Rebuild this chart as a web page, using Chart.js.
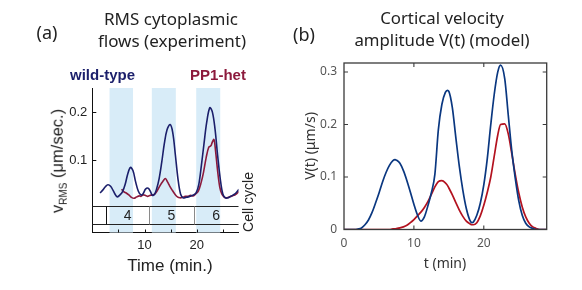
<!DOCTYPE html>
<html>
<head>
<meta charset="utf-8">
<script src="https://cdn.jsdelivr.net/npm/chart.js@4"></script>
<style>
  html, body { margin:0; padding:0; background:#fff; }
  #wrap { position:relative; width:582px; height:290px; overflow:hidden; background:#fff; }
  canvas { position:absolute; top:0; }
  .t { position:absolute; transform:translate(-50%,-50%); white-space:nowrap; line-height:1; color:#222; }
  .r { transform:translate(-50%,-50%) rotate(-90deg); }
  .noto { font-family:"Noto Sans", sans-serif; }
  .lib { font-family:"Liberation Sans", Arial, sans-serif; }
</style>
</head>
<body>
<div id="wrap">
  <canvas id="ca" width="290" height="290" style="left:0"></canvas>
  <canvas id="cb" width="292" height="290" style="left:290px"></canvas>

  <div class="t noto" style="left:47px;top:32px;font-size:18px">(a)</div>
  <div class="t noto" style="left:171px;top:18px;font-size:17px">RMS cytoplasmic</div>
  <div class="t noto" style="left:172px;top:40px;font-size:17px">flows (experiment)</div>
  <div class="t lib" style="left:102.5px;top:73.5px;font-size:15px;font-weight:bold;color:#1b1f6b">wild-type</div>
  <div class="t lib" style="left:218px;top:73.5px;font-size:15px;font-weight:bold;color:#8c1a3c">PP1-het</div>
  <div class="t lib r" style="left:57px;top:161px;font-size:16.5px">v<span style="font-size:10px;position:relative;top:4px">RMS</span> (μm/sec.)</div>
  <div class="t lib" style="left:170px;top:265px;font-size:17px">Time (min.)</div>
  <div class="t lib r" style="left:248px;top:202px;font-size:14px">Cell cycle</div>

  <div class="t noto" style="left:304px;top:34px;font-size:18px">(b)</div>
  <div class="t noto" style="left:442px;top:18px;font-size:16.8px">Cortical velocity</div>
  <div class="t noto" style="left:442px;top:40px;font-size:16.8px">amplitude V(t) (model)</div>
  <div class="t noto r" style="left:310px;top:146px;font-size:14px;color:#333">V(t) (μm/s)</div>
  <div class="t noto" style="left:445px;top:263px;font-size:14px;color:#333">t (min)</div>
</div>
<script>
// ---------- Panel (a): experiment ----------
const aTimeWT = [1.5,2.0,2.5,3.0,3.5,4.0,4.5,4.8,5.3,5.8,6.3,6.8,7.3,7.8,8.3,8.8,9.3,9.7,10.2,10.7,11.1,11.5,11.9,12.3,12.8,13.3,13.8,14.3,14.9,15.4,15.9,16.4,16.9,17.4,17.9,18.4,18.9,19.4,19.9,20.4,20.9,21.4,21.9,22.5,23.0,23.5,24.0,24.5,25.0,25.5,26.0,26.5,27.0,27.5,28.1];
const aWT     = [0.032,0.038,0.045,0.049,0.046,0.037,0.027,0.024,0.028,0.035,0.050,0.072,0.085,0.078,0.055,0.036,0.028,0.030,0.040,0.042,0.036,0.027,0.029,0.040,0.062,0.096,0.135,0.163,0.174,0.158,0.112,0.062,0.030,0.022,0.023,0.024,0.026,0.028,0.033,0.050,0.090,0.135,0.178,0.209,0.200,0.165,0.110,0.062,0.030,0.022,0.022,0.025,0.028,0.032,0.040];
const aTimePP = [5.6,6.0,6.5,7.0,7.5,8.0,8.5,9.0,9.3,9.7,10.2,10.6,11.0,11.5,12.0,12.5,13.0,13.5,14.0,14.4,14.8,15.3,15.8,16.3,16.8,17.3,17.8,18.3,18.8,19.3,19.8,20.3,20.8,21.3,21.8,22.3,22.7,23.0,23.3,23.6,24.0,24.4,24.8,25.3,25.8,26.3,26.8,27.3,27.8,28.2];
const aPP     = [0.040,0.035,0.032,0.028,0.023,0.021,0.024,0.026,0.025,0.028,0.027,0.025,0.027,0.028,0.030,0.038,0.048,0.056,0.062,0.055,0.047,0.038,0.030,0.024,0.022,0.023,0.025,0.025,0.027,0.026,0.030,0.036,0.052,0.075,0.105,0.127,0.130,0.138,0.143,0.120,0.078,0.045,0.030,0.023,0.022,0.024,0.026,0.028,0.032,0.036];
const aBandStart = [3.3, 11.4, 19.9];
const aBandEnd   = [7.8, 16.0, 24.5];
const aCycleBounds = [2.6, 10.9, 19.4, 28];
const aCycleLabels = ['4','5','6'];
const aTicksX = [5,10,15,20,25];
const aLabelsX = [10,20];
const aTicksY = [0.1,0.2];

// ---------- Panel (b): model ----------
const bTime = [0,0.5,1,1.5,2,2.5,3,3.5,4,4.5,5,5.5,6,6.5,7,7.3,7.5,8,8.5,9,9.5,10,10.5,11,11.5,12,12.5,13,13.5,14,14.5,14.8,15,15.5,16,16.5,17,17.5,18,18.3,18.5,19,19.5,20,20.5,21,21.5,22,22.4,23,23.5,24,24.5,25,25.5,26,26.5,27,27.5,28,29];
const bWT   = [0,0,0,0,0.001,0.003,0.009,0.018,0.032,0.050,0.069,0.090,0.108,0.122,0.131,0.133,0.132,0.126,0.112,0.093,0.071,0.048,0.028,0.016,0.024,0.045,0.070,0.105,0.190,0.238,0.261,0.265,0.263,0.232,0.175,0.120,0.075,0.040,0.018,0.013,0.014,0.027,0.050,0.085,0.135,0.200,0.258,0.300,0.313,0.287,0.218,0.150,0.098,0.055,0.027,0.012,0.005,0.002,0,0,0];
const bPP   = [0,0,0,0,0,0,0,0,0,0,0,0,0,0,0.001,0.001,0.002,0.003,0.005,0.008,0.013,0.019,0.026,0.033,0.042,0.053,0.067,0.081,0.091,0.093,0.089,0.084,0.079,0.066,0.051,0.037,0.025,0.016,0.011,0.009,0.009,0.013,0.026,0.046,0.071,0.100,0.140,0.180,0.200,0.201,0.182,0.145,0.105,0.070,0.043,0.024,0.012,0.005,0.002,0,0];
const bTicksX = [0,10,20];
const bTicksY = [0,0.1,0.2,0.3];

const pts = (xs, ys) => xs.map((x, i) => ({x, y: ys[i]}));

// ---- plugins ----
const panelA = {
  id: 'panelA',
  beforeDatasetsDraw(chart) {
    const {ctx, chartArea: ca, scales: {x}} = chart;
    ctx.save();
    ctx.fillStyle = '#d8ecf8';
    aBandStart.forEach((s, i) => {
      const x0 = x.getPixelForValue(s), x1 = x.getPixelForValue(aBandEnd[i]);
      ctx.fillRect(x0, ca.top, x1 - x0, ca.bottom - ca.top);
    });
    const top = Math.round(ca.bottom - 27) + 0.5, mid = Math.round(ca.bottom - 9) + 0.5;
    ctx.lineWidth = 1;
    ctx.strokeStyle = '#222';
    ctx.beginPath();
    ctx.moveTo(ca.left, top); ctx.lineTo(ca.right, top);
    ctx.moveTo(ca.left, mid); ctx.lineTo(ca.right, mid);
    ctx.stroke();
    for (let i = 0; i < aCycleBounds.length - 1; i++) {
      const px = Math.round(x.getPixelForValue(aCycleBounds[i])) + 0.5;
      ctx.strokeStyle = i === 0 ? '#111' : '#8a8a8a';
      ctx.beginPath(); ctx.moveTo(px, top); ctx.lineTo(px, mid); ctx.stroke();
    }
    ctx.fillStyle = '#222';
    ctx.font = '14px "Liberation Sans", Arial, sans-serif';
    ctx.textAlign = 'center'; ctx.textBaseline = 'middle';
    aCycleLabels.forEach((lab, i) => {
      const cx = x.getPixelForValue((aCycleBounds[i] + aCycleBounds[i + 1]) / 2);
      ctx.fillText(lab, cx, (top + mid) / 2 + 1);
    });
    ctx.restore();
  },
  afterDraw(chart) {
    const {ctx, chartArea: ca, scales: {x, y}} = chart;
    ctx.save();
    ctx.strokeStyle = '#111'; ctx.lineWidth = 1;
    ctx.beginPath();
    aTicksX.forEach(v => { const px = Math.round(x.getPixelForValue(v)) + 0.5; ctx.moveTo(px, ca.bottom); ctx.lineTo(px, ca.bottom - 3); });
    aTicksY.forEach(v => { const py = Math.round(y.getPixelForValue(v)) + 0.5; ctx.moveTo(ca.left, py); ctx.lineTo(ca.left + 4, py); });
    ctx.stroke();
    ctx.restore();
  }
};

const panelB = {
  id: 'panelB',
  afterDraw(chart) {
    const {ctx, chartArea: ca, scales: {x, y}} = chart;
    ctx.save();
    ctx.strokeStyle = '#3a3a3a'; ctx.lineWidth = 1.3;
    ctx.strokeRect(ca.left, ca.top, ca.right - ca.left, ca.bottom - ca.top);
    ctx.lineWidth = 1.1;
    ctx.beginPath();
    bTicksX.forEach(v => { const px = x.getPixelForValue(v); if (px <= ca.left + 1) return; ctx.moveTo(px, ca.bottom); ctx.lineTo(px, ca.bottom - 4); ctx.moveTo(px, ca.top); ctx.lineTo(px, ca.top + 4); });
    bTicksY.forEach(v => { const py = y.getPixelForValue(v); if (py >= ca.bottom - 1) return; ctx.moveTo(ca.left, py); ctx.lineTo(ca.left + 4, py); ctx.moveTo(ca.right, py); ctx.lineTo(ca.right - 4, py); });
    ctx.stroke();
    ctx.restore();
  }
};

const libFont = {family: '"Liberation Sans", Arial, sans-serif', size: 13};
const notoFont = {family: '"Noto Sans", sans-serif', size: 12};

new Chart(document.getElementById('ca'), {
  type: 'line',
  data: { datasets: [
    { label: 'wild-type', data: pts(aTimeWT, aWT), borderColor: '#1b1f6b', borderWidth: 1.6, pointRadius: 0, tension: 0.35, fill: false },
    { label: 'PP1-het', data: pts(aTimePP, aPP), borderColor: '#8c1a3c', borderWidth: 1.6, pointRadius: 0, tension: 0.35, fill: false }
  ]},
  options: {
    responsive: false, animation: false, devicePixelRatio: 1,
    layout: { padding: { left: 0, top: 88, right: 51.5, bottom: 0 } },
    plugins: { legend: { display: false }, tooltip: { enabled: false }, title: { display: false } },
    scales: {
      x: { type: 'linear', min: 0, max: 28,
        afterFit(s) { s.height = 57.5; },
        afterBuildTicks(s) { s.ticks = aTicksX.map(v => ({value: v})); },
        ticks: { callback: v => aLabelsX.includes(v) ? String(v) : '', font: libFont, color: '#222', padding: 5, maxRotation: 0, autoSkip: false },
        grid: { display: false, drawTicks: false },
        border: { display: true, color: '#111', width: 1 } },
      y: { type: 'linear', min: -0.05, max: 0.25,
        afterFit(s) { s.width = 92.3; },
        afterBuildTicks(s) { s.ticks = aTicksY.map(v => ({value: v})); },
        ticks: { callback: v => v.toFixed(1), font: libFont, color: '#222', padding: 5 },
        grid: { display: false, drawTicks: false },
        border: { display: true, color: '#111', width: 1 } }
    }
  },
  plugins: [panelA]
});

new Chart(document.getElementById('cb'), {
  type: 'line',
  data: { datasets: [
    { label: 'wild-type', data: pts(bTime, bWT), borderColor: '#0a3780', borderWidth: 1.7, pointRadius: 0, cubicInterpolationMode: 'monotone', fill: false },
    { label: 'PP1-het', data: pts(bTime, bPP), borderColor: '#b3121f', borderWidth: 1.7, pointRadius: 0, cubicInterpolationMode: 'monotone', fill: false }
  ]},
  options: {
    responsive: false, animation: false, devicePixelRatio: 1,
    layout: { padding: { left: 0, top: 63, right: 35.3, bottom: 0 } },
    plugins: { legend: { display: false }, tooltip: { enabled: false }, title: { display: false } },
    scales: {
      x: { type: 'linear', min: 0, max: 29,
        afterFit(s) { s.height = 60.5; },
        afterBuildTicks(s) { s.ticks = bTicksX.map(v => ({value: v})); },
        ticks: { callback: v => String(v), font: notoFont, color: '#555', padding: 7, maxRotation: 0, autoSkip: false },
        grid: { display: false, drawTicks: false },
        border: { display: false } },
      y: { type: 'linear', min: 0, max: 0.317,
        afterFit(s) { s.width = 54; },
        afterBuildTicks(s) { s.ticks = bTicksY.map(v => ({value: v})); },
        ticks: { callback: v => v === 0 ? '0' : v.toFixed(1), font: notoFont, color: '#555', padding: 7 },
        grid: { display: false, drawTicks: false },
        border: { display: false } }
    }
  },
  plugins: [panelB]
});
</script>
</body>
</html>
